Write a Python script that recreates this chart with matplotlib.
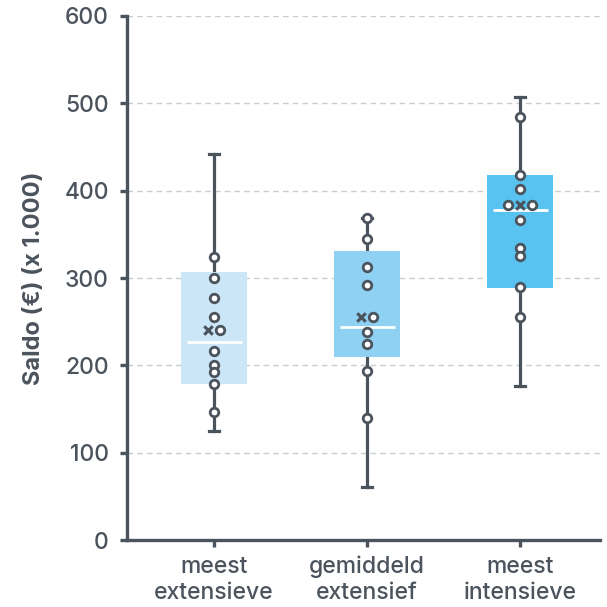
import numpy as np
import matplotlib
matplotlib.use("Agg")
import matplotlib.pyplot as plt

plt.rcParams["font.family"] = ["Inter", "DejaVu Sans"]

# data (x 1.000 euro)
categories = ["meest\nextensieve", "gemiddeld\nextensief", "meest\nintensieve"]
q1 = [179, 210, 289]
median = [227, 244, 378]
q3 = [307, 331, 418]
whisker_low = [125, 61, 177]
whisker_high = [442, 369, 507]
means = [240, 255, 383]
points = [
    [324, 300, 277, 255, 240, 216, 201, 192, 179, 147],
    [369, 345, 313, 292, 255, 238, 225, 194, 140],
    [484, 418, 402, 383, 383, 366, 334, 325, 290, 255],
]

box_colors = ["#cbe6f7", "#8ed1f3", "#58c3f1"]
dark = "#4b535d"
grid_col = "#c9ccd0"

fig = plt.figure(figsize=(6.07, 6.07), dpi=100)
ax = fig.add_axes([0.209, 0.110, 0.779, 0.864])

stats = []
for i in range(len(categories)):
    stats.append(dict(med=median[i], q1=q1[i], q3=q3[i],
                      whislo=whisker_low[i], whishi=whisker_high[i],
                      mean=means[i], fliers=[]))

pos = np.arange(len(categories))
bp = ax.bxp(stats, positions=pos, widths=0.43, patch_artist=True,
            showfliers=False, showmeans=False, capwidths=0.068,
            boxprops=dict(linewidth=0),
            whiskerprops=dict(color=dark, linewidth=2.3),
            capprops=dict(color=dark, linewidth=2.3),
            medianprops=dict(color="white", linewidth=2))
for patch, c in zip(bp["boxes"], box_colors):
    patch.set_facecolor(c)
    patch.set_zorder(3)
for ln in bp["medians"]:
    ln.set_zorder(4)
    xd = ln.get_xdata()
    c = (xd[0] + xd[1]) / 2
    ln.set_xdata([c - 0.18, c + 0.18])
for ln in bp["whiskers"] + bp["caps"]:
    ln.set_zorder(2)

# points and mean markers; points sitting on the mean share a row with it
step = 0.078
for i, vals in enumerate(points):
    near = [v for v in vals if abs(v - means[i]) < 3]
    rest = [v for v in vals if abs(v - means[i]) >= 3]
    row = ["o"] * len(near)
    row.insert(len(near) // 2, "x")
    offs = (np.arange(len(row)) - (len(row) - 1) / 2) * step
    ax.scatter(np.full(len(rest), pos[i]), rest, s=38, facecolor="white",
               edgecolor=dark, linewidth=2, zorder=5)
    for kind, o in zip(row, offs):
        if kind == "x":
            ax.scatter(pos[i] + o, means[i], marker="x", s=38, color=dark,
                       linewidth=2.2, zorder=5)
        else:
            ax.scatter(pos[i] + o, means[i], s=38, facecolor="white",
                       edgecolor=dark, linewidth=2, zorder=5)

ax.set_xlim(-0.57, 2.52)
ax.set_ylim(0, 600)
ax.set_yticks(range(0, 601, 100))
ax.set_xticks(pos)
ax.set_xticklabels(categories, linespacing=1.25)

for y in range(100, 601, 100):
    ax.axhline(y, color=grid_col, linestyle=(0, (4, 3)), linewidth=1, zorder=1)

for s in ["top", "right"]:
    ax.spines[s].set_visible(False)
for s in ["left", "bottom"]:
    ax.spines[s].set_color(dark)
    ax.spines[s].set_linewidth(2.4)

ax.tick_params(axis="both", colors=dark, width=2.4, length=5,
               labelsize=16.5, labelcolor=dark)
ax.tick_params(axis="y", pad=8)
ax.tick_params(axis="x", pad=6)
for lab in ax.get_yticklabels() + ax.get_xticklabels():
    lab.set_fontweight("medium")

ax.set_ylabel("Saldo (€) (x 1.000)", fontsize=17, fontweight="bold",
              color=dark, labelpad=14)

fig.savefig("out.png", dpi=100)
